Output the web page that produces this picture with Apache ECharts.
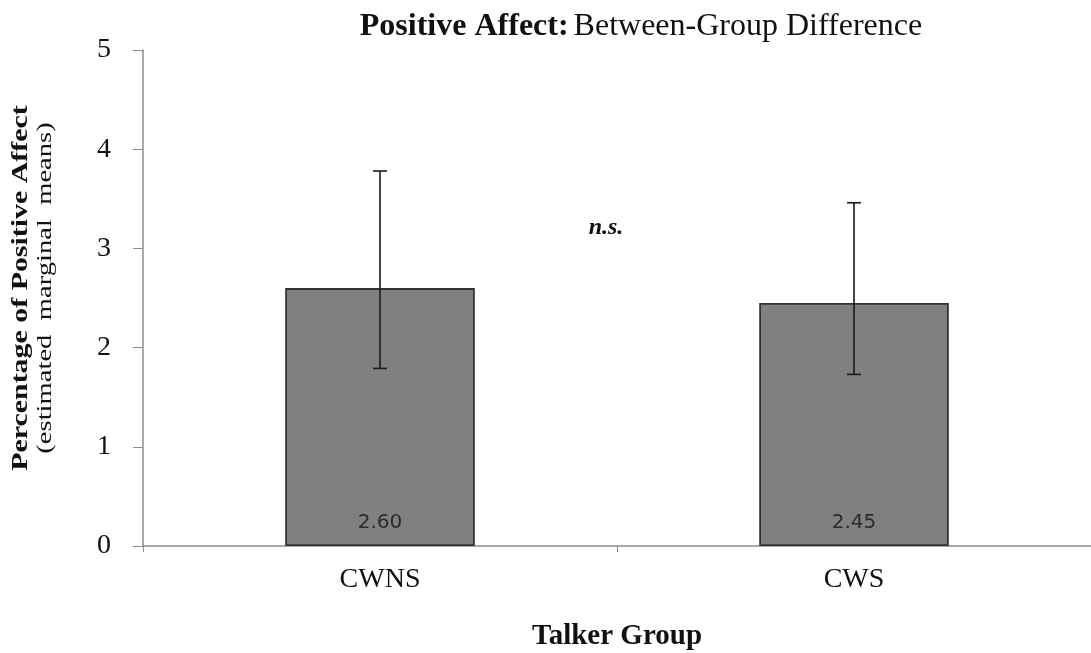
<!DOCTYPE html>
<html>
<head>
<meta charset="utf-8">
<script src="https://cdn.jsdelivr.net/npm/echarts@6/dist/echarts.min.js"></script>
<style>
  html, body { margin: 0; padding: 0; background: #fff; }
  #chart { width: 1091px; height: 653px; }
</style>
</head>
<body>
<div id="chart"></div>
<script>
// Talker groups and their estimated marginal means
const groups = ['CWNS', 'CWS'];
const means = [2.60, 2.45];
// Upper and lower ends of the error bars
const errHigh = [3.78, 3.46];
const errLow = [1.79, 1.73];
const yTicks = [0, 1, 2, 3, 4, 5];

const serif = '"Liberation Serif", "Times New Roman", serif';
const chart = echarts.init(document.getElementById('chart'));

const errData = groups.map((g, i) => [i, errLow[i], errHigh[i]]);

chart.setOption({
  animation: false,
  grid: { left: 143, right: 0, top: 50, bottom: 107, containLabel: false, outerBoundsMode: 'none' },
  title: {
    text: '{b|Positive Affect:} {n|Between-Group Difference}',
    left: 636, top: 6, textAlign: 'center',
    textStyle: {
      fontWeight: 'normal',
      rich: {
        b: { fontFamily: serif, fontSize: 32, fontWeight: 'bold', color: '#111' },
        n: { fontFamily: serif, fontSize: 32, fontWeight: 'normal', color: '#111' }
      }
    }
  },
  xAxis: {
    type: 'category',
    data: groups,
    boundaryGap: true,
    axisLine: { lineStyle: { color: '#8c8c8c', width: 1.5 } },
    axisTick: { show: true, interval: 0, length: 6, lineStyle: { color: '#8c8c8c' } },
    axisLabel: { fontFamily: serif, fontSize: 28, color: '#111', margin: 20 },
    name: 'Talker Group',
    nameLocation: 'middle',
    nameGap: 76,
    nameTextStyle: { fontFamily: serif, fontSize: 29, fontWeight: 'bold', color: '#111' }
  },
  yAxis: {
    type: 'value',
    min: yTicks[0], max: yTicks[yTicks.length - 1], interval: 1,
    axisLine: { show: true, lineStyle: { color: '#8c8c8c', width: 1.5 } },
    axisTick: { show: true, length: 10, lineStyle: { color: '#8c8c8c' } },
    splitLine: { show: false },
    axisLabel: { fontFamily: serif, fontSize: 28, color: '#111', margin: 32 }
  },
  graphic: [
    {
      type: 'text', x: 21, y: 288, rotation: Math.PI / 2, scaleX: 1.3,
      style: {
        text: 'Percentage of Positive Affect',
        font: 'bold 23px ' + serif, fill: '#111',
        align: 'center', verticalAlign: 'middle'
      }
    },
    {
      type: 'text', x: 45, y: 288, rotation: Math.PI / 2, scaleX: 1.3,
      style: {
        text: '(estimated  marginal  means)',
        font: '22px ' + serif, fill: '#111',
        align: 'center', verticalAlign: 'middle'
      }
    },
    {
      type: 'text', x: 606, y: 228,
      style: {
        text: 'n.s.',
        font: 'italic bold 24px ' + serif, fill: '#111',
        align: 'center', verticalAlign: 'middle'
      }
    }
  ],
  series: [
    {
      type: 'bar',
      data: means,
      barWidth: '40%',
      itemStyle: { color: '#808080', borderColor: '#333333', borderWidth: 1.8 },
      label: {
        show: true,
        position: 'insideBottom',
        distance: 13,
        formatter: p => p.value.toFixed(2),
        fontFamily: '"DejaVu Sans", sans-serif',
        fontSize: 20,
        color: '#2a2a2a'
      },
      z: 2
    },
    {
      type: 'custom',
      data: errData,
      z: 5,
      renderItem: (params, api) => {
        const x = api.value(0);
        const lo = api.coord([x, api.value(1)]);
        const hi = api.coord([x, api.value(2)]);
        const cap = 7;
        const style = { stroke: '#1a1a1a', lineWidth: 1.6 };
        return {
          type: 'group',
          children: [
            { type: 'line', shape: { x1: hi[0], y1: hi[1], x2: lo[0], y2: lo[1] }, style },
            { type: 'line', shape: { x1: hi[0] - cap, y1: hi[1], x2: hi[0] + cap, y2: hi[1] }, style },
            { type: 'line', shape: { x1: lo[0] - cap, y1: lo[1], x2: lo[0] + cap, y2: lo[1] }, style }
          ]
        };
      }
    }
  ]
});
</script>
</body>
</html>
